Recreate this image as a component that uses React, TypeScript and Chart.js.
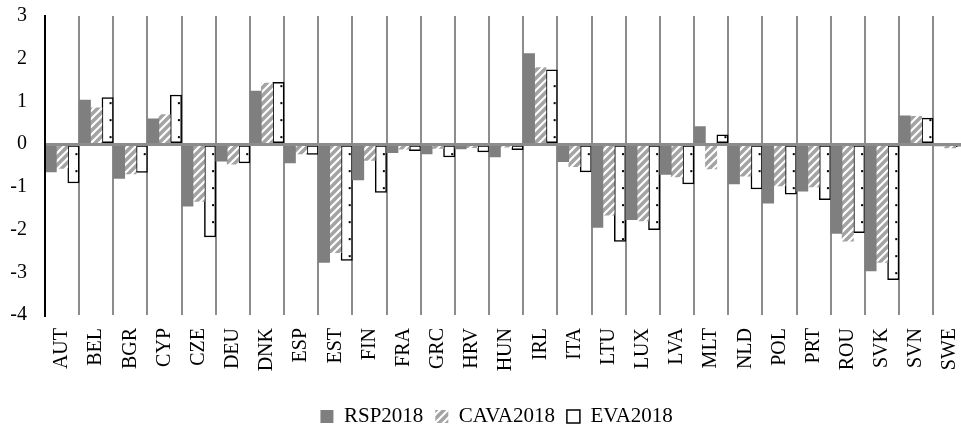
import React, { useEffect, useRef } from "react";
import { Chart, registerables } from "chart.js";

Chart.register(...registerables);

const categories = ["AUT","BEL","BGR","CYP","CZE","DEU","DNK","ESP","EST","FIN","FRA","GRC","HRV","HUN","IRL","ITA","LTU","LUX","LVA","MLT","NLD","POL","PRT","ROU","SVK","SVN","SWE"];
const rsp2018 = [-0.65,1.03,-0.80,0.59,-1.45,-0.40,1.24,-0.44,-2.77,-0.84,-0.20,-0.23,-0.11,-0.30,2.12,-0.41,-1.95,-1.77,-0.71,0.41,-0.93,-1.38,-1.10,-2.09,-2.97,0.66,-0.04];
const cava2018 = [-0.57,0.85,-0.70,0.69,-1.34,-0.47,1.43,-0.23,-2.54,-0.38,-0.12,-0.10,-0.08,-0.07,1.79,-0.53,-1.66,-1.80,-0.77,-0.58,-0.75,-0.98,-1.00,-2.27,-2.77,0.65,-0.09];
const eva2018 = [-0.91,1.09,-0.66,1.15,-2.17,-0.44,1.45,-0.24,-2.72,-1.13,-0.15,-0.30,-0.18,-0.13,1.74,-0.65,-2.28,-2.00,-0.93,0.22,-1.05,-1.17,-1.30,-2.07,-3.17,0.61,-0.06];
const seriesNames = ["RSP2018", "CAVA2018", "EVA2018"];
const yMin = -4;
const yMax = 3;

const FONT = "'Liberation Serif', 'Times New Roman', serif";

function makeHatch(): CanvasPattern | string {
  const c = document.createElement("canvas");
  c.width = 8;
  c.height = 8;
  const g = c.getContext("2d");
  if (!g) return "#a6a6a6";
  g.fillStyle = "#a3a3a3";
  g.fillRect(0, 0, 8, 8);
  g.strokeStyle = "#ffffff";
  g.lineWidth = 2.2;
  g.beginPath();
  g.moveTo(-2, 10); g.lineTo(10, -2);
  g.moveTo(-6, 6); g.lineTo(6, -6);
  g.moveTo(2, 14); g.lineTo(14, 2);
  g.stroke();
  return g.createPattern(c, "repeat") as CanvasPattern;
}

const dotPlugin = {
  id: "evaDots",
  afterDatasetsDraw(chart: any) {
    const meta = chart.getDatasetMeta(2);
    if (!meta || meta.hidden) return;
    const ctx = chart.ctx;
    const zero = chart.scales.y.getPixelForValue(0);
    ctx.save();
    ctx.fillStyle = "#000";
    meta.data.forEach((el: any) => {
      const { x, y, base, width } = el.getProps(["x", "y", "base", "width"], true);
      const top = Math.min(y, base);
      const bottom = Math.max(y, base);
      const dx = x + width * 0.26;
      for (let k = -30; k <= 30; k++) {
        const yy = zero + 10 + 17 * k;
        if (yy > top + 2 && yy < bottom - 2) ctx.fillRect(dx - 1, yy - 1, 2, 2);
      }
    });
    ctx.restore();
  },
};

const legendShift = {
  id: "legendShift",
  afterLayout(chart: any) {
    const lg = chart.legend;
    if (lg) {
      lg.left += 13;
      lg.right += 13;
    }
  },
};

export default function App() {
  const ref = useRef<HTMLCanvasElement | null>(null);
  useEffect(() => {
    if (!ref.current) return;
    const hatch = makeHatch();
    const chart = new Chart(ref.current, {
      type: "bar",
      data: {
        labels: categories,
        datasets: [
          { label: seriesNames[0], data: rsp2018, backgroundColor: "#7f7f7f", borderWidth: 0 },
          { label: seriesNames[1], data: cava2018, backgroundColor: hatch as any, borderWidth: 0 },
          { label: seriesNames[2], data: eva2018, backgroundColor: "#ffffff", borderColor: "#000000", borderWidth: 1.5, borderSkipped: false },
        ],
      },
      options: {
        animation: false,
        responsive: false,
        events: [],
        layout: { padding: { left: 0, right: 32.7, top: 0, bottom: 3 } },
        datasets: { bar: { barPercentage: 1, categoryPercentage: 1 } },
        plugins: {
          tooltip: { enabled: false },
          legend: {
            position: "bottom",
            labels: {
              color: "#000",
              font: { family: FONT, size: 21 },
              boxWidth: 13,
              boxHeight: 13,
              padding: 12,
            },
          },
        },
        scales: {
          x: {
            grid: { color: "#8c8c8c", lineWidth: 2, drawTicks: false, offset: true },
            border: { display: false },
            ticks: {
              color: "#000",
              font: { family: FONT, size: 20 },
              minRotation: 90,
              maxRotation: 90,
              autoSkip: false,
              padding: 13,
            },
            afterFit: (s: any) => { s.height = 79; },
          },
          y: {
            min: yMin,
            max: yMax,
            grid: {
              z: 1,
              drawTicks: false,
              color: (c: any) => (c.tick && c.tick.value === 0 ? "#8c8c8c" : "rgba(0,0,0,0)"),
              lineWidth: 3,
            },
            border: { display: true, color: "#000", width: 2, z: 1 },
            ticks: {
              stepSize: 1,
              color: "#000",
              font: { family: FONT, size: 20 },
              padding: 18,
            },
            afterFit: (s: any) => { s.width = 45; },
          },
        },
      },
      plugins: [dotPlugin, legendShift],
    });
    return () => chart.destroy();
  }, []);
  return (
    <div style={{ position: "absolute", left: 0, top: 0, width: 961, height: 427, overflow: "hidden", background: "#fff" }}>
      <canvas ref={ref} width={1000} height={454} style={{ width: 1000, height: 454, display: "block", marginTop: -14 }} />
    </div>
  );
}
